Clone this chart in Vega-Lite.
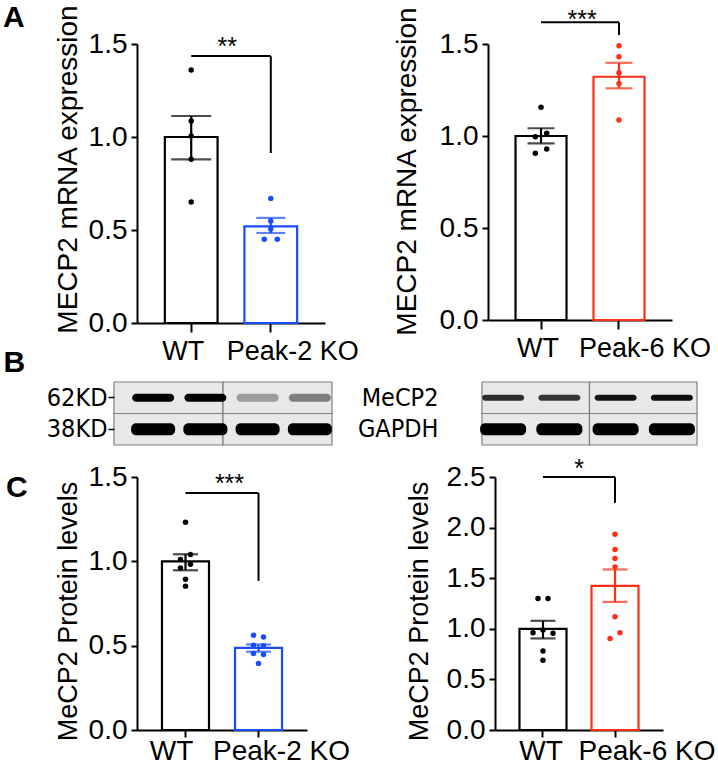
{
  "$schema": "https://vega.github.io/schema/vega-lite/v6.json",
  "background": "white",
  "padding": {"left": 3, "top": 3, "right": 0, "bottom": 0},
  "config": {
    "font": "Liberation Sans",
    "view": {"stroke": null},
    "axis": {"grid": false, "domainColor": "#000", "domainWidth": 2, "tickColor": "#000", "tickWidth": 2, "labelColor": "#000", "titleColor": "#000", "labelFont": "Liberation Sans", "titleFont": "Liberation Sans", "titleFontWeight": "normal"},
    "axisX": {"labelAngle": 0, "labelFontSize": 27, "tickSize": 9, "labelPadding": 6},
    "axisY": {"labelFontSize": 28, "tickSize": 6, "labelPadding": 4, "titleFontSize": 27, "titlePadding": 6},
    "title": {"font": "Liberation Sans", "fontSize": 30, "fontWeight": "bold", "color": "#000", "anchor": "start", "frame": "group"}
  },
  "vconcat": [
    {
      "hconcat": [
        {
          "width": 188, "height": 279,
          "title": {"text": "A", "dx": -134, "dy": 53, "baseline": "alphabetic", "offset": 0},
          "layer": [
            {
              "data": {"values": [
                {"group": "WT", "mean": 1.0, "lo": 0.88, "hi": 1.113},
                {"group": "Peak-2 KO", "mean": 0.52, "lo": 0.484, "hi": 0.565}
              ]},
              "layer": [
                {"mark": {"type": "bar", "fill": "white", "strokeWidth": 2.2, "width": {"band": 1}},
                 "encoding": {
                   "x": {"field": "group", "type": "nominal", "title": "B", "scale": {"domain": ["WT", "Peak-2 KO"], "paddingInner": 0.3375, "paddingOuter": 0.35}, "axis": {"titleX": -134, "titleY": 48, "titleAngle": 0, "titleAlign": "left", "titleBaseline": "alphabetic", "titleFontSize": 30, "titleFontWeight": "bold", "labelOffset": {"condition": {"test": "datum.value === 'WT'", "value": -8}, "value": 22}}},
                   "y": {"field": "mean", "type": "quantitative", "title": "MECP2 mRNA expression", "scale": {"domain": [0, 1.5], "nice": false}, "axis": {"values": [0, 0.5, 1, 1.5], "format": ".1f", "titleY": 125, "titleAlign": "center", "titleFontSize": 28}},
                   "stroke": {"field": "group", "type": "nominal", "scale": {"domain": ["WT", "Peak-2 KO", "Peak-6 KO"], "range": ["#000000", "#1a4cff", "#ff2e17"]}, "legend": null}
                 }},
                {"mark": {"type": "rule", "strokeWidth": 2.2},
                 "encoding": {
                   "x": {"field": "group", "type": "nominal", "title": "B"},
                   "y": {"field": "lo", "type": "quantitative", "title": "MECP2 mRNA expression"},
                   "y2": {"field": "hi"},
                   "color": {"field": "group", "type": "nominal", "scale": {"domain": ["WT", "Peak-2 KO", "Peak-6 KO"], "range": ["#000000", "#1a4cff", "#ff2e17"]}, "legend": null}
                 }},
                {"mark": {"type": "tick", "orient": "horizontal", "thickness": 2.2},
                 "encoding": {
                   "x": {"field": "group", "type": "nominal", "title": "B"},
                   "y": {"field": "lo", "type": "quantitative", "title": "MECP2 mRNA expression"},
                   "color": {"field": "group", "type": "nominal", "scale": {"domain": ["WT", "Peak-2 KO", "Peak-6 KO"], "range": ["#000000", "#1a4cff", "#ff2e17"]}, "legend": null},
                   "size": {"field": "group", "type": "nominal", "scale": {"domain": ["WT", "Peak-2 KO"], "range": [40, 29]}, "legend": null}
                 }},
                {"mark": {"type": "tick", "orient": "horizontal", "thickness": 2.2},
                 "encoding": {
                   "x": {"field": "group", "type": "nominal", "title": "B"},
                   "y": {"field": "hi", "type": "quantitative", "title": "MECP2 mRNA expression"},
                   "color": {"field": "group", "type": "nominal", "scale": {"domain": ["WT", "Peak-2 KO", "Peak-6 KO"], "range": ["#000000", "#1a4cff", "#ff2e17"]}, "legend": null},
                   "size": {"field": "group", "type": "nominal", "scale": {"domain": ["WT", "Peak-2 KO"], "range": [40, 29]}, "legend": null}
                 }}
              ]
            },
            {
              "data": {"values": [
                {"group": "WT", "v": 1.36, "sw": 0},
                {"group": "WT", "v": 1.086, "sw": 0},
                {"group": "WT", "v": 1.006, "sw": 0},
                {"group": "WT", "v": 0.88, "sw": 0},
                {"group": "WT", "v": 0.65, "sw": 0},
                {"group": "Peak-2 KO", "v": 0.67, "sw": 0},
                {"group": "Peak-2 KO", "v": 0.548, "sw": 0},
                {"group": "Peak-2 KO", "v": 0.505, "sw": 0},
                {"group": "Peak-2 KO", "v": 0.45, "sw": -1},
                {"group": "Peak-2 KO", "v": 0.45, "sw": 1}
              ]},
              "encoding": {
                "x": {"field": "group", "type": "nominal", "title": "B"},
                "y": {"field": "v", "type": "quantitative", "title": "MECP2 mRNA expression"},
                "color": {"field": "group", "type": "nominal", "scale": {"domain": ["WT", "Peak-2 KO", "Peak-6 KO"], "range": ["#000000", "#1a4cff", "#ff2e17"]}, "legend": null}
              },
              "layer": [
                {"transform": [{"filter": "datum.sw == 0"}], "mark": {"type": "circle", "size": 30, "opacity": 1}},
                {"transform": [{"filter": "datum.sw == -1"}], "mark": {"type": "circle", "size": 30, "opacity": 1, "xOffset": -6.5}},
                {"transform": [{"filter": "datum.sw == 1"}], "mark": {"type": "circle", "size": 30, "opacity": 1, "xOffset": 6.5}}
              ]
            },
            {
              "data": {"values": [{"group": "WT", "group2": "Peak-2 KO", "y": 1.435, "ybot": 0.914, "ty": 1.44, "label": "**"}]},
              "layer": [
                {"mark": {"type": "rule", "strokeWidth": 2, "color": "#000"},
                 "encoding": {"x": {"field": "group", "type": "nominal", "title": "B"}, "x2": {"field": "group2"}, "y": {"field": "y", "type": "quantitative", "title": "MECP2 mRNA expression"}}},
                {"mark": {"type": "rule", "strokeWidth": 2, "color": "#000"},
                 "encoding": {"x": {"field": "group2", "type": "nominal", "title": "B"}, "y": {"field": "y", "type": "quantitative", "title": "MECP2 mRNA expression"}, "y2": {"field": "ybot"}}},
                {"mark": {"type": "text", "fontSize": 25, "dx": 36, "baseline": "alphabetic", "align": "center", "color": "#000"},
                 "encoding": {"x": {"field": "group", "type": "nominal", "title": "B"}, "y": {"field": "ty", "type": "quantitative", "title": "MECP2 mRNA expression"}, "text": {"field": "label"}}}
              ]
            }
          ]
        },
        {
          "width": 184, "height": 276,
          "layer": [
            {
              "data": {"values": [
                {"group": "WT", "mean": 1.0, "lo": 0.96, "hi": 1.042},
                {"group": "Peak-6 KO", "mean": 1.322, "lo": 1.259, "hi": 1.398}
              ]},
              "layer": [
                {"mark": {"type": "bar", "fill": "white", "strokeWidth": 2.2, "width": {"band": 1}},
                 "encoding": {
                   "x": {"field": "group", "type": "nominal", "title": null, "scale": {"domain": ["WT", "Peak-6 KO"], "paddingInner": 0.346, "paddingOuter": 0.353}, "axis": {"labelOffset": {"condition": {"test": "datum.value === 'WT'", "value": -3}, "value": 26}}},
                   "y": {"field": "mean", "type": "quantitative", "title": "MECP2 mRNA expression", "scale": {"domain": [0, 1.5], "nice": false}, "axis": {"values": [0, 0.5, 1, 1.5], "format": ".1f", "titleY": 127, "titleAlign": "center", "titleFontSize": 28, "titlePadding": 18}},
                   "stroke": {"field": "group", "type": "nominal", "scale": {"domain": ["WT", "Peak-2 KO", "Peak-6 KO"], "range": ["#000000", "#1a4cff", "#ff2e17"]}, "legend": null}
                 }},
                {"mark": {"type": "rule", "strokeWidth": 2.2},
                 "encoding": {
                   "x": {"field": "group", "type": "nominal", "title": null},
                   "y": {"field": "lo", "type": "quantitative", "title": "MECP2 mRNA expression"},
                   "y2": {"field": "hi"},
                   "color": {"field": "group", "type": "nominal", "scale": {"domain": ["WT", "Peak-2 KO", "Peak-6 KO"], "range": ["#000000", "#1a4cff", "#ff2e17"]}, "legend": null}
                 }},
                {"mark": {"type": "tick", "orient": "horizontal", "thickness": 2.2, "size": 27},
                 "encoding": {
                   "x": {"field": "group", "type": "nominal", "title": null},
                   "y": {"field": "lo", "type": "quantitative", "title": "MECP2 mRNA expression"},
                   "color": {"field": "group", "type": "nominal", "scale": {"domain": ["WT", "Peak-2 KO", "Peak-6 KO"], "range": ["#000000", "#1a4cff", "#ff2e17"]}, "legend": null}
                 }},
                {"mark": {"type": "tick", "orient": "horizontal", "thickness": 2.2, "size": 27},
                 "encoding": {
                   "x": {"field": "group", "type": "nominal", "title": null},
                   "y": {"field": "hi", "type": "quantitative", "title": "MECP2 mRNA expression"},
                   "color": {"field": "group", "type": "nominal", "scale": {"domain": ["WT", "Peak-2 KO", "Peak-6 KO"], "range": ["#000000", "#1a4cff", "#ff2e17"]}, "legend": null}
                 }}
              ]
            },
            {
              "data": {"values": [
                {"group": "WT", "v": 1.156, "sw": 0},
                {"group": "WT", "v": 1.015, "sw": 1},
                {"group": "WT", "v": 0.996, "sw": -1},
                {"group": "WT", "v": 0.929, "sw": 1},
                {"group": "WT", "v": 0.906, "sw": -1},
                {"group": "Peak-6 KO", "v": 1.491, "sw": 0},
                {"group": "Peak-6 KO", "v": 1.431, "sw": 0},
                {"group": "Peak-6 KO", "v": 1.344, "sw": 0},
                {"group": "Peak-6 KO", "v": 1.286, "sw": 0},
                {"group": "Peak-6 KO", "v": 1.087, "sw": 0}
              ]},
              "encoding": {
                "x": {"field": "group", "type": "nominal", "title": null},
                "y": {"field": "v", "type": "quantitative", "title": "MECP2 mRNA expression"},
                "color": {"field": "group", "type": "nominal", "scale": {"domain": ["WT", "Peak-2 KO", "Peak-6 KO"], "range": ["#000000", "#1a4cff", "#ff2e17"]}, "legend": null}
              },
              "layer": [
                {"transform": [{"filter": "datum.sw == 0"}], "mark": {"type": "circle", "size": 30, "opacity": 1}},
                {"transform": [{"filter": "datum.sw == -1"}], "mark": {"type": "circle", "size": 30, "opacity": 1, "xOffset": -5.7}},
                {"transform": [{"filter": "datum.sw == 1"}], "mark": {"type": "circle", "size": 30, "opacity": 1, "xOffset": 5.7}}
              ]
            },
            {
              "data": {"values": [{"group": "WT", "group2": "Peak-6 KO", "y": 1.618, "ybot": 1.549, "ty": 1.589, "label": "***"}]},
              "layer": [
                {"mark": {"type": "rule", "strokeWidth": 2, "color": "#000"},
                 "encoding": {"x": {"field": "group", "type": "nominal", "title": null}, "x2": {"field": "group2"}, "y": {"field": "y", "type": "quantitative", "title": "MECP2 mRNA expression"}}},
                {"mark": {"type": "rule", "strokeWidth": 2, "color": "#000"},
                 "encoding": {"x": {"field": "group2", "type": "nominal", "title": null}, "y": {"field": "y", "type": "quantitative", "title": "MECP2 mRNA expression"}, "y2": {"field": "ybot"}}},
                {"mark": {"type": "text", "fontSize": 25, "dx": 41, "baseline": "alphabetic", "align": "center", "color": "#000"},
                 "encoding": {"x": {"field": "group", "type": "nominal", "title": null}, "y": {"field": "ty", "type": "quantitative", "title": "MECP2 mRNA expression"}, "text": {"field": "label"}}}
              ]
            }
          ]
        }
      ],
      "spacing": 163,
      "bounds": "flush"
    },
    {
      "hconcat": [
        {
          "width": 195, "height": 63,
          "layer": [
            {
              "data": {"values": [
                {"half": "WT", "protein": "MeCP2"}, {"half": "Peak-2 KO", "protein": "MeCP2"},
                {"half": "WT", "protein": "GAPDH"}, {"half": "Peak-2 KO", "protein": "GAPDH"}
              ]},
              "mark": {"type": "rect", "fill": "#e8e8e8", "stroke": "#808080", "strokeWidth": 1.2, "width": {"band": 1}, "height": {"band": 1}},
              "encoding": {
                "x": {"field": "half", "type": "nominal", "title": ".", "scale": {"domain": ["WT", "Peak-2 KO"], "range": [-23, 195], "paddingInner": 0, "paddingOuter": 0}, "axis": {"domain": false, "ticks": false, "labels": false, "titleColor": "#ffffff", "titleFontSize": 8, "titlePadding": 0}},
                "y": {"field": "protein", "type": "nominal", "title": null, "scale": {"domain": ["MeCP2", "GAPDH"], "paddingInner": 0, "paddingOuter": 0}, "axis": {"offset": 23, "domain": false, "tickSize": 6, "tickWidth": 1.5, "labelPadding": 1, "labelFont": "DejaVu Sans Condensed, Liberation Sans", "labelFontSize": 25, "labelExpr": "datum.value == 'MeCP2' ? '62KD' : '38KD'"}}
              }
            },
            {
              "data": {"values": [
                {"lane": "1", "protein": "MeCP2", "intensity": 1.0},
                {"lane": "2", "protein": "MeCP2", "intensity": 1.0},
                {"lane": "3", "protein": "MeCP2", "intensity": 0.3},
                {"lane": "4", "protein": "MeCP2", "intensity": 0.42},
                {"lane": "1", "protein": "GAPDH", "intensity": 1.0},
                {"lane": "2", "protein": "GAPDH", "intensity": 1.0},
                {"lane": "3", "protein": "GAPDH", "intensity": 1.0},
                {"lane": "4", "protein": "GAPDH", "intensity": 1.0}
              ]},
              "layer": [
                {"transform": [{"filter": "datum.protein == 'MeCP2'"}],
                 "mark": {"type": "rect", "width": 42, "height": 8, "cornerRadius": 4},
                 "encoding": {
                   "x": {"field": "lane", "type": "nominal", "scale": {"domain": ["1", "2", "3", "4"], "range": [-10, 199], "paddingInner": 0, "paddingOuter": 0}, "axis": null},
                   "y": {"field": "protein", "type": "nominal", "title": null},
                   "fill": {"field": "intensity", "type": "quantitative", "scale": {"domain": [0, 1], "range": ["#e8e8e8", "#000000"]}, "legend": null}
                 }},
                {"transform": [{"filter": "datum.protein == 'GAPDH'"}],
                 "mark": {"type": "rect", "width": 44, "height": 12, "cornerRadius": 5},
                 "encoding": {
                   "x": {"field": "lane", "type": "nominal", "scale": {"domain": ["1", "2", "3", "4"], "range": [-10, 199], "paddingInner": 0, "paddingOuter": 0}, "axis": null},
                   "y": {"field": "protein", "type": "nominal", "title": null},
                   "fill": {"field": "intensity", "type": "quantitative", "scale": {"domain": [0, 1], "range": ["#e8e8e8", "#000000"]}, "legend": null}
                 }}
              ],
              "resolve": {"scale": {"x": "shared"}}
            }
          ],
          "resolve": {"scale": {"x": "independent"}}
        },
        {
          "width": 215, "height": 63,
          "layer": [
            {
              "data": {"values": [
                {"half": "WT", "protein": "MeCP2"}, {"half": "Peak-6 KO", "protein": "MeCP2"},
                {"half": "WT", "protein": "GAPDH"}, {"half": "Peak-6 KO", "protein": "GAPDH"}
              ]},
              "mark": {"type": "rect", "fill": "#e8e8e8", "stroke": "#808080", "strokeWidth": 1.2, "width": {"band": 1}, "height": {"band": 1}},
              "encoding": {
                "x": {"field": "half", "type": "nominal", "scale": {"domain": ["WT", "Peak-6 KO"], "paddingInner": 0, "paddingOuter": 0}, "axis": null},
                "y": {"field": "protein", "type": "nominal", "title": null, "scale": {"domain": ["MeCP2", "GAPDH"], "paddingInner": 0, "paddingOuter": 0}, "axis": {"domain": false, "ticks": false, "labelPadding": 44, "labelFont": "DejaVu Sans Condensed, Liberation Sans", "labelFontSize": 25}}
              }
            },
            {
              "data": {"values": [
                {"lane": "1", "protein": "MeCP2", "intensity": 0.8},
                {"lane": "2", "protein": "MeCP2", "intensity": 0.76},
                {"lane": "3", "protein": "MeCP2", "intensity": 0.93},
                {"lane": "4", "protein": "MeCP2", "intensity": 0.96},
                {"lane": "1", "protein": "GAPDH", "intensity": 1.0},
                {"lane": "2", "protein": "GAPDH", "intensity": 1.0},
                {"lane": "3", "protein": "GAPDH", "intensity": 1.0},
                {"lane": "4", "protein": "GAPDH", "intensity": 1.0}
              ]},
              "layer": [
                {"transform": [{"filter": "datum.protein == 'MeCP2'"}],
                 "mark": {"type": "rect", "width": 42, "height": 6, "cornerRadius": 3},
                 "encoding": {
                   "x": {"field": "lane", "type": "nominal", "scale": {"domain": ["1", "2", "3", "4"], "range": [-7, 218], "paddingInner": 0, "paddingOuter": 0}, "axis": null},
                   "y": {"field": "protein", "type": "nominal", "title": null},
                   "fill": {"field": "intensity", "type": "quantitative", "scale": {"domain": [0, 1], "range": ["#e8e8e8", "#000000"]}, "legend": null}
                 }},
                {"transform": [{"filter": "datum.protein == 'GAPDH'"}],
                 "mark": {"type": "rect", "width": 46, "height": 12, "cornerRadius": 5},
                 "encoding": {
                   "x": {"field": "lane", "type": "nominal", "scale": {"domain": ["1", "2", "3", "4"], "range": [-7, 218], "paddingInner": 0, "paddingOuter": 0}, "axis": null},
                   "y": {"field": "protein", "type": "nominal", "title": null},
                   "fill": {"field": "intensity", "type": "quantitative", "scale": {"domain": [0, 1], "range": ["#e8e8e8", "#000000"]}, "legend": null}
                 }}
              ],
              "resolve": {"scale": {"x": "shared"}}
            }
          ],
          "resolve": {"scale": {"x": "independent"}}
        }
      ],
      "spacing": 150,
      "bounds": "flush"
    },
    {
      "hconcat": [
        {
          "width": 170, "height": 253,
          "title": {"text": "C", "dx": -131, "dy": 64, "baseline": "alphabetic", "offset": 0},
          "layer": [
            {
              "data": {"values": [
                {"group": "WT", "mean": 1.0, "lo": 0.947, "hi": 1.042},
                {"group": "Peak-2 KO", "mean": 0.487, "lo": 0.464, "hi": 0.507}
              ]},
              "layer": [
                {"mark": {"type": "bar", "fill": "white", "strokeWidth": 2.2, "width": {"band": 1}},
                 "encoding": {
                   "x": {"field": "group", "type": "nominal", "title": null, "scale": {"domain": ["WT", "Peak-2 KO"], "paddingInner": 0.356, "paddingOuter": 0.342}, "axis": {"labelFontSize": 28, "tickSize": 7, "labelPadding": 0, "labelOffset": {"condition": {"test": "datum.value === 'WT'", "value": -14}, "value": 23}}},
                   "y": {"field": "mean", "type": "quantitative", "title": "MeCP2 Protein levels", "scale": {"domain": [0, 1.5], "nice": false}, "axis": {"values": [0, 0.5, 1, 1.5], "format": ".1f", "titleY": 134, "titleAlign": "center"}},
                   "stroke": {"field": "group", "type": "nominal", "scale": {"domain": ["WT", "Peak-2 KO", "Peak-6 KO"], "range": ["#000000", "#1a4cff", "#ff2e17"]}, "legend": null}
                 }},
                {"mark": {"type": "rule", "strokeWidth": 2.2},
                 "encoding": {
                   "x": {"field": "group", "type": "nominal", "title": null},
                   "y": {"field": "lo", "type": "quantitative", "title": "MeCP2 Protein levels"},
                   "y2": {"field": "hi"},
                   "color": {"field": "group", "type": "nominal", "scale": {"domain": ["WT", "Peak-2 KO", "Peak-6 KO"], "range": ["#000000", "#1a4cff", "#ff2e17"]}, "legend": null}
                 }},
                {"mark": {"type": "tick", "orient": "horizontal", "thickness": 2.2, "size": 25},
                 "encoding": {
                   "x": {"field": "group", "type": "nominal", "title": null},
                   "y": {"field": "lo", "type": "quantitative", "title": "MeCP2 Protein levels"},
                   "color": {"field": "group", "type": "nominal", "scale": {"domain": ["WT", "Peak-2 KO", "Peak-6 KO"], "range": ["#000000", "#1a4cff", "#ff2e17"]}, "legend": null}
                 }},
                {"mark": {"type": "tick", "orient": "horizontal", "thickness": 2.2, "size": 25},
                 "encoding": {
                   "x": {"field": "group", "type": "nominal", "title": null},
                   "y": {"field": "hi", "type": "quantitative", "title": "MeCP2 Protein levels"},
                   "color": {"field": "group", "type": "nominal", "scale": {"domain": ["WT", "Peak-2 KO", "Peak-6 KO"], "range": ["#000000", "#1a4cff", "#ff2e17"]}, "legend": null}
                 }}
              ]
            },
            {
              "data": {"values": [
                {"group": "WT", "v": 1.232, "sw": 0},
                {"group": "WT", "v": 1.04, "sw": 1},
                {"group": "WT", "v": 1.011, "sw": -1},
                {"group": "WT", "v": 0.983, "sw": 1},
                {"group": "WT", "v": 0.961, "sw": -1},
                {"group": "WT", "v": 0.894, "sw": 0},
                {"group": "WT", "v": 0.853, "sw": 0},
                {"group": "Peak-2 KO", "v": 0.562, "sw": -1},
                {"group": "Peak-2 KO", "v": 0.552, "sw": 1},
                {"group": "Peak-2 KO", "v": 0.503, "sw": -1},
                {"group": "Peak-2 KO", "v": 0.5, "sw": 1},
                {"group": "Peak-2 KO", "v": 0.454, "sw": -1},
                {"group": "Peak-2 KO", "v": 0.448, "sw": 1},
                {"group": "Peak-2 KO", "v": 0.395, "sw": 0}
              ]},
              "encoding": {
                "x": {"field": "group", "type": "nominal", "title": null},
                "y": {"field": "v", "type": "quantitative", "title": "MeCP2 Protein levels"},
                "color": {"field": "group", "type": "nominal", "scale": {"domain": ["WT", "Peak-2 KO", "Peak-6 KO"], "range": ["#000000", "#1a4cff", "#ff2e17"]}, "legend": null}
              },
              "layer": [
                {"transform": [{"filter": "datum.sw == 0"}], "mark": {"type": "circle", "size": 30, "opacity": 1}},
                {"transform": [{"filter": "datum.sw == -1"}], "mark": {"type": "circle", "size": 30, "opacity": 1, "xOffset": -5}},
                {"transform": [{"filter": "datum.sw == 1"}], "mark": {"type": "circle", "size": 30, "opacity": 1, "xOffset": 5}}
              ]
            },
            {
              "data": {"values": [{"group": "WT", "group2": "Peak-2 KO", "y": 1.405, "ybot": 0.884, "ty": 1.41, "label": "***"}]},
              "layer": [
                {"mark": {"type": "rule", "strokeWidth": 2, "color": "#000"},
                 "encoding": {"x": {"field": "group", "type": "nominal", "title": null}, "x2": {"field": "group2"}, "y": {"field": "y", "type": "quantitative", "title": "MeCP2 Protein levels"}}},
                {"mark": {"type": "rule", "strokeWidth": 2, "color": "#000"},
                 "encoding": {"x": {"field": "group2", "type": "nominal", "title": null}, "y": {"field": "y", "type": "quantitative", "title": "MeCP2 Protein levels"}, "y2": {"field": "ybot"}}},
                {"mark": {"type": "text", "fontSize": 25, "dx": 44, "baseline": "alphabetic", "align": "center", "color": "#000"},
                 "encoding": {"x": {"field": "group", "type": "nominal", "title": null}, "y": {"field": "ty", "type": "quantitative", "title": "MeCP2 Protein levels"}, "text": {"field": "label"}}}
              ]
            }
          ]
        },
        {
          "width": 168, "height": 253,
          "layer": [
            {
              "data": {"values": [
                {"group": "WT", "mean": 1.0, "lo": 0.905, "hi": 1.079},
                {"group": "Peak-6 KO", "mean": 1.424, "lo": 1.266, "hi": 1.586}
              ]},
              "layer": [
                {"mark": {"type": "bar", "fill": "white", "strokeWidth": 2.2, "width": {"band": 1}},
                 "encoding": {
                   "x": {"field": "group", "type": "nominal", "title": null, "scale": {"domain": ["WT", "Peak-6 KO"], "paddingInner": 0.347, "paddingOuter": 0.34}, "axis": {"labelFontSize": 28, "tickSize": 7, "labelPadding": 0, "labelOffset": {"condition": {"test": "datum.value === 'WT'", "value": -2}, "value": 32}}},
                   "y": {"field": "mean", "type": "quantitative", "title": "MeCP2 Protein levels", "scale": {"domain": [0, 2.5], "nice": false}, "axis": {"values": [0, 0.5, 1, 1.5, 2, 2.5], "format": ".1f", "titleY": 134, "titleAlign": "center", "titlePadding": 13}},
                   "stroke": {"field": "group", "type": "nominal", "scale": {"domain": ["WT", "Peak-2 KO", "Peak-6 KO"], "range": ["#000000", "#1a4cff", "#ff2e17"]}, "legend": null}
                 }},
                {"mark": {"type": "rule", "strokeWidth": 2.2},
                 "encoding": {
                   "x": {"field": "group", "type": "nominal", "title": null},
                   "y": {"field": "lo", "type": "quantitative", "title": "MeCP2 Protein levels"},
                   "y2": {"field": "hi"},
                   "color": {"field": "group", "type": "nominal", "scale": {"domain": ["WT", "Peak-2 KO", "Peak-6 KO"], "range": ["#000000", "#1a4cff", "#ff2e17"]}, "legend": null}
                 }},
                {"mark": {"type": "tick", "orient": "horizontal", "thickness": 2.2, "size": 25},
                 "encoding": {
                   "x": {"field": "group", "type": "nominal", "title": null},
                   "y": {"field": "lo", "type": "quantitative", "title": "MeCP2 Protein levels"},
                   "color": {"field": "group", "type": "nominal", "scale": {"domain": ["WT", "Peak-2 KO", "Peak-6 KO"], "range": ["#000000", "#1a4cff", "#ff2e17"]}, "legend": null}
                 }},
                {"mark": {"type": "tick", "orient": "horizontal", "thickness": 2.2, "size": 25},
                 "encoding": {
                   "x": {"field": "group", "type": "nominal", "title": null},
                   "y": {"field": "hi", "type": "quantitative", "title": "MeCP2 Protein levels"},
                   "color": {"field": "group", "type": "nominal", "scale": {"domain": ["WT", "Peak-2 KO", "Peak-6 KO"], "range": ["#000000", "#1a4cff", "#ff2e17"]}, "legend": null}
                 }}
              ]
            },
            {
              "data": {"values": [
                {"group": "WT", "v": 1.3, "sw": -1},
                {"group": "WT", "v": 1.3, "sw": 1},
                {"group": "WT", "v": 0.96, "sw": -2},
                {"group": "WT", "v": 0.987, "sw": 0},
                {"group": "WT", "v": 0.955, "sw": 2},
                {"group": "WT", "v": 0.78, "sw": 0},
                {"group": "WT", "v": 0.69, "sw": 0},
                {"group": "Peak-6 KO", "v": 1.935, "sw": 0},
                {"group": "Peak-6 KO", "v": 1.784, "sw": 0},
                {"group": "Peak-6 KO", "v": 1.695, "sw": 0},
                {"group": "Peak-6 KO", "v": 1.612, "sw": 0},
                {"group": "Peak-6 KO", "v": 1.118, "sw": 0},
                {"group": "Peak-6 KO", "v": 0.96, "sw": 1},
                {"group": "Peak-6 KO", "v": 0.905, "sw": -1}
              ]},
              "encoding": {
                "x": {"field": "group", "type": "nominal", "title": null},
                "y": {"field": "v", "type": "quantitative", "title": "MeCP2 Protein levels"},
                "color": {"field": "group", "type": "nominal", "scale": {"domain": ["WT", "Peak-2 KO", "Peak-6 KO"], "range": ["#000000", "#1a4cff", "#ff2e17"]}, "legend": null}
              },
              "layer": [
                {"transform": [{"filter": "datum.sw == 0"}], "mark": {"type": "circle", "size": 30, "opacity": 1}},
                {"transform": [{"filter": "datum.sw == -1"}], "mark": {"type": "circle", "size": 30, "opacity": 1, "xOffset": -5}},
                {"transform": [{"filter": "datum.sw == 1"}], "mark": {"type": "circle", "size": 30, "opacity": 1, "xOffset": 5}},
                {"transform": [{"filter": "datum.sw == -2"}], "mark": {"type": "circle", "size": 30, "opacity": 1, "xOffset": -10}},
                {"transform": [{"filter": "datum.sw == 2"}], "mark": {"type": "circle", "size": 30, "opacity": 1, "xOffset": 10}}
              ]
            },
            {
              "data": {"values": [{"group": "WT", "group2": "Peak-6 KO", "y": 2.5, "ybot": 2.244, "ty": 2.5, "label": "*"}]},
              "layer": [
                {"mark": {"type": "rule", "strokeWidth": 2, "color": "#000"},
                 "encoding": {"x": {"field": "group", "type": "nominal", "title": null}, "x2": {"field": "group2"}, "y": {"field": "y", "type": "quantitative", "title": "MeCP2 Protein levels"}}},
                {"mark": {"type": "rule", "strokeWidth": 2, "color": "#000"},
                 "encoding": {"x": {"field": "group2", "type": "nominal", "title": null}, "y": {"field": "y", "type": "quantitative", "title": "MeCP2 Protein levels"}, "y2": {"field": "ybot"}}},
                {"mark": {"type": "text", "fontSize": 25, "dx": 36, "baseline": "alphabetic", "align": "center", "color": "#000"},
                 "encoding": {"x": {"field": "group", "type": "nominal", "title": null}, "y": {"field": "ty", "type": "quantitative", "title": "MeCP2 Protein levels"}, "text": {"field": "label"}}}
              ]
            }
          ]
        }
      ],
      "spacing": 188,
      "bounds": "flush"
    }
  ],
  "spacing": 4
}
